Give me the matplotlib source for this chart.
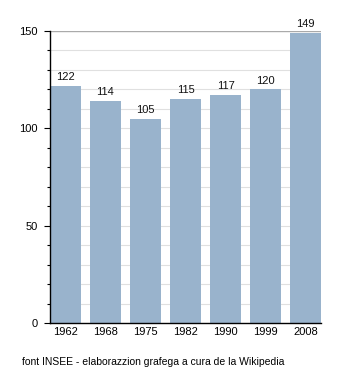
import matplotlib
matplotlib.use('Agg')
import matplotlib.pyplot as plt
import numpy as np

plt.rcParams['font.family'] = ['Liberation Sans', 'DejaVu Sans']

years = ['1962', '1968', '1975', '1982', '1990', '1999', '2008']
population = [122, 114, 105, 115, 117, 120, 149]
y_labels = [0, 50, 100, 150]
source = 'font INSEE - elaborazzion grafega a cura de la Wikipedia'

BAR_COLOR = '#99b3cc'
W = 0.77

fig = plt.figure(figsize=(3.5, 3.73), dpi=100)
ax = fig.add_axes([50 / 350, 1 - 323 / 373, 271 / 350, 292 / 373])

x = np.arange(len(years))
ax.bar(x, population, width=W, color=BAR_COLOR, zorder=2)
for xi, v in zip(x, population):
    ax.text(xi, v + 2.0, str(v), ha='center', va='bottom', fontsize=8, color='#111111')

ax.set_xlim(-W / 2, len(years) - 1 + W / 2)
ax.set_ylim(0, 150)

# light grid every 10, darker line on top
for g in range(10, 150, 10):
    ax.axhline(g, color='#e0e0e0', lw=0.8, zorder=1)
ax.axhline(150, color='#aaaaaa', lw=1.0, zorder=1)

ax.set_yticks(y_labels)
ax.set_yticks(range(0, 151, 10), minor=True)
ax.tick_params(axis='y', which='major', direction='out', length=4, width=0.8,
               labelsize=8, pad=5)
ax.tick_params(axis='y', which='minor', direction='out', length=2, width=0.8)
ax.set_xticks(x, years)
ax.tick_params(axis='x', length=0, labelsize=8, pad=3)

for s in ['top', 'right']:
    ax.spines[s].set_visible(False)
ax.spines['left'].set_linewidth(1.0)
ax.spines['bottom'].set_linewidth(1.0)
ax.spines['left'].set_zorder(3)
ax.spines['bottom'].set_zorder(3)

fig.text(22 / 350, 1 - 362 / 373, source, fontsize=7.5, va='center', ha='left')

fig.savefig('out.png', dpi=100)
